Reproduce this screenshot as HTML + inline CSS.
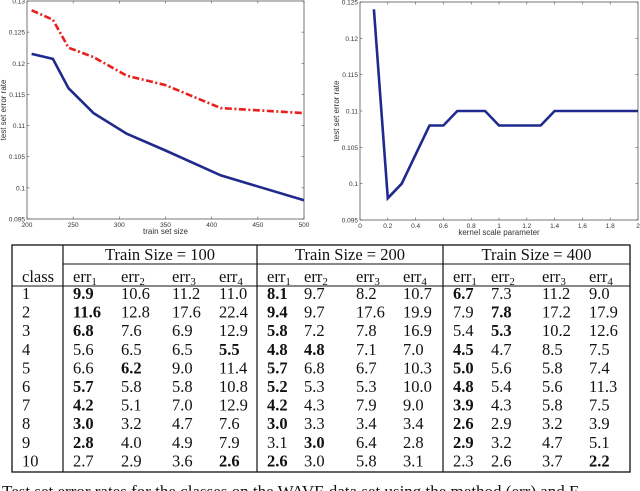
<!DOCTYPE html>
<html><head><meta charset="utf-8"><style>
html,body{margin:0;padding:0;background:#fff;width:640px;height:491px;overflow:hidden}
svg{display:block}
.tk{font-family:"Liberation Sans",sans-serif;font-size:6.5px;fill:#333}
.ttl{font-family:"Liberation Sans",sans-serif;font-size:8px;fill:#333}
.tb{font-family:"Liberation Serif",serif;font-size:16.5px;fill:#111}
.b{font-weight:bold}
</style></head><body>
<svg id="fig" width="640" height="491" viewBox="0 0 640 491">
<g id="left"></g>
<g id="right"></g>
<g id="table"></g>
<text x="2" y="497" class="tb" style="font-size:17px">Test set error rates for the classes on the WAVE data set using the method (err) and E</text>
</svg>
<script>
// Left chart data
const trainSizes = [205, 228, 245, 272, 308, 350, 410, 500];
const errSolid = [0.1215, 0.1207, 0.116, 0.112, 0.1087, 0.106, 0.102, 0.098];
const errDashed = [0.1285, 0.127, 0.1225, 0.121, 0.118, 0.1165, 0.1128, 0.112];
const leftXTicks = [200, 250, 300, 350, 400, 450, 500];
const leftYTicks = [0.095, 0.1, 0.105, 0.11, 0.115, 0.12, 0.125, 0.13];
// Right chart data
const kernelScale = [0.1,0.2,0.3,0.4,0.5,0.6,0.7,0.8,0.9,1.0,1.1,1.2,1.3,1.4,1.5,1.6,1.7,1.8,1.9,2.0];
const kernelErr = [0.124,0.098,0.100,0.104,0.108,0.108,0.110,0.110,0.110,0.108,0.108,0.108,0.108,0.110,0.110,0.110,0.110,0.110,0.110,0.110];
const rightXTicks = [0,0.2,0.4,0.6,0.8,1,1.2,1.4,1.6,1.8,2];
const rightYTicks = [0.095,0.1,0.105,0.11,0.115,0.12,0.125];
// Table data
const classes = ["1","2","3","4","5","6","7","8","9","10"];
const tableValues = [
 ["9.9","10.6","11.2","11.0","8.1","9.7","8.2","10.7","6.7","7.3","11.2","9.0"],
 ["11.6","12.8","17.6","22.4","9.4","9.7","17.6","19.9","7.9","7.8","17.2","17.9"],
 ["6.8","7.6","6.9","12.9","5.8","7.2","7.8","16.9","5.4","5.3","10.2","12.6"],
 ["5.6","6.5","6.5","5.5","4.8","4.8","7.1","7.0","4.5","4.7","8.5","7.5"],
 ["6.6","6.2","9.0","11.4","5.7","6.8","6.7","10.3","5.0","5.6","5.8","7.4"],
 ["5.7","5.8","5.8","10.8","5.2","5.3","5.3","10.0","4.8","5.4","5.6","11.3"],
 ["4.2","5.1","7.0","12.9","4.2","4.3","7.9","9.0","3.9","4.3","5.8","7.5"],
 ["3.0","3.2","4.7","7.6","3.0","3.3","3.4","3.4","2.6","2.9","3.2","3.9"],
 ["2.8","4.0","4.9","7.9","3.1","3.0","6.4","2.8","2.9","3.2","4.7","5.1"],
 ["2.7","2.9","3.6","2.6","2.6","3.0","5.8","3.1","2.3","2.6","3.7","2.2"]];
const boldCells = [[0,4,8],[0,4,9],[0,4,9],[3,4,5,8],[1,4,8],[0,4,8],[0,4,8],[0,4,8],[0,5,8],[3,4,11]];
const groupTitles = ["Train Size = 100","Train Size = 200","Train Size = 400"];

const NS="http://www.w3.org/2000/svg";
function mk(parent,tag,attrs,text){const e=document.createElementNS(NS,tag);for(const k in attrs)e.setAttribute(k,attrs[k]);if(text!==undefined)e.textContent=text;parent.appendChild(e);return e;}

function chart(g,x0,x1,y0,y1,xmin,xmax,ymin,ymax,xt,yt,xTitle,fmtX){
  const sx=v=>x0+(v-xmin)/(xmax-xmin)*(x1-x0);
  const sy=v=>y1-(v-ymin)/(ymax-ymin)*(y1-y0);
  const r=mk(g,'rect',{x:x0,y:y0,width:x1-x0,height:y1-y0,fill:'#fff',stroke:'#555','stroke-width':0.8});
  
  
  xt.forEach(v=>{const x=sx(v);
    mk(g,'line',{x1:x,x2:x,y1:y1,y2:y1-2.5,stroke:'#555','stroke-width':0.6});
    mk(g,'line',{x1:x,x2:x,y1:y0,y2:y0+2.5,stroke:'#555','stroke-width':0.6});
    const t=mk(g,'text',{x:x,y:y1+8,'text-anchor':'middle',class:'tk'},fmtX(v));
    
    });
  yt.forEach(v=>{const y=sy(v);
    mk(g,'line',{x1:x0,x2:x0+2.5,y1:y,y2:y,stroke:'#555','stroke-width':0.6});
    mk(g,'line',{x1:x1,x2:x1-2.5,y1:y,y2:y,stroke:'#555','stroke-width':0.6});
    const t=mk(g,'text',{x:x0-2,y:y+2.5,'text-anchor':'end',class:'tk'},String(v));
    
    });
  const xl=mk(g,'text',{x:(x0+x1)/2,y:y1+15,'text-anchor':'middle',class:'ttl'},xTitle);
  
  
  const yx=x0-21, yy=(y0+y1)/2;
  const yl=mk(g,'text',{x:yx,y:yy,'text-anchor':'middle',class:'ttl',transform:`rotate(-90 ${yx} ${yy})`},'test set error rate');
  
  
  return {sx,sy};
}
function line(g,xs,ys,s,attrs,name){
  const d=xs.map((v,i)=>(i?'L':'M')+s.sx(v).toFixed(1)+','+s.sy(ys[i]).toFixed(1)).join(' ');
  const p=mk(g,'path',Object.assign({d:d,fill:'none'},attrs));
  
  
}
const L=document.getElementById('left');
const sL=chart(L,27,304,1,219,200,500,0.095,0.13,leftXTicks,leftYTicks,'train set size',v=>String(v));
line(L,trainSizes,errDashed,sL,{stroke:'#e8201c','stroke-width':2.6,'stroke-dasharray':'7,2.5,2,2.5'},'dashed-error-line');
line(L,trainSizes,errSolid,sL,{stroke:'#1f2a8c','stroke-width':2.6},'solid-error-line');
const R=document.getElementById('right');
const sR=chart(R,360,638,2,220,0,2,0.095,0.125,rightXTicks,rightYTicks,'kernel scale parameter',v=>String(v));
line(R,kernelScale,kernelErr,sR,{stroke:'#1f2a8c','stroke-width':2.6,'stroke-linejoin':'miter'},'kernel-error-line');

// Table
const T=document.getElementById('table');
const tl=12,tr=630,tt=245,h1=264,h2=286,tb=472,rowH=18.6;
const vlines=[63,257,443];
mk(T,'rect',{x:tl,y:tt,width:tr-tl,height:tb-tt,fill:'none',stroke:'#111','stroke-width':1.3});
mk(T,'line',{x1:63,x2:tr,y1:h1,y2:h1,stroke:'#111','stroke-width':1});
mk(T,'line',{x1:tl,x2:tr,y1:h2,y2:h2,stroke:'#111','stroke-width':1});
vlines.forEach(x=>mk(T,'line',{x1:x,x2:x,y1:tt,y2:tb,stroke:'#111','stroke-width':1.2}));
const groupMid=[160,350,536.5];
groupTitles.forEach((s,i)=>{const t=mk(T,'text',{x:groupMid[i],y:260,'text-anchor':'middle',class:'tb'},s);
  
  });
const colX=[73,121,172,219,267,304,356,403,453,491,542,589];
const ch=mk(T,'text',{x:22,y:282,class:'tb'},'class');


colX.forEach((x,i)=>{const t=mk(T,'text',{x:x,y:282,class:'tb'});
  
  
  t.appendChild(document.createTextNode('err'));
  const s=document.createElementNS(NS,'tspan');s.setAttribute('dy','3');s.setAttribute('font-size','11');s.textContent=String(i%4+1);t.appendChild(s);});
classes.forEach((c,r)=>{const y=299+r*rowH;
  const ct=mk(T,'text',{x:22,y:y,class:'tb'},c);
  
  
  tableValues[r].forEach((v,j)=>{const t=mk(T,'text',{x:colX[j],y:y,class:'tb'+(boldCells[r].includes(j)?' b':'')},v);
    
    });});
</script>
</body></html>
